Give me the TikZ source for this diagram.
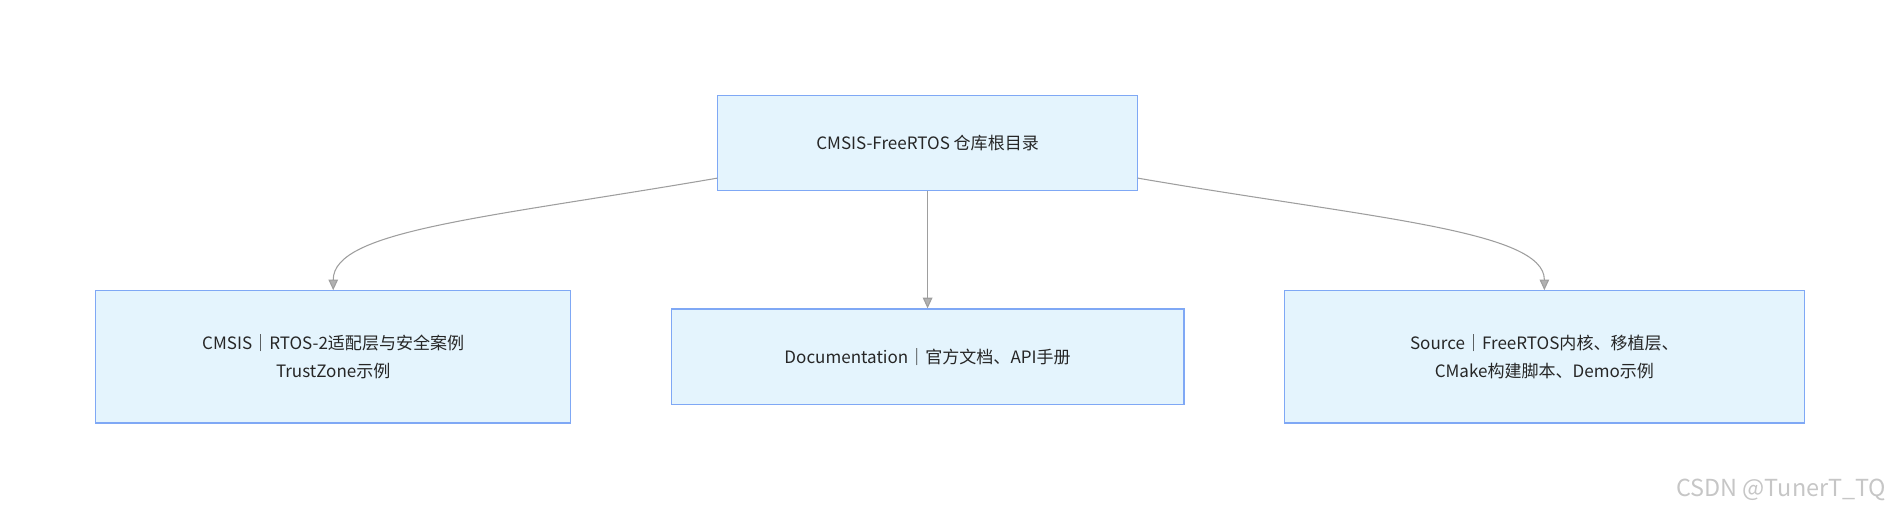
\documentclass[tikz,border=0pt]{standalone}
\usepackage{fontspec}
\setmainfont{Noto Sans CJK SC}
\usepackage{tikz}
\usetikzlibrary{arrows.meta, positioning}
\definecolor{boxfill}{HTML}{E4F4FD}
\definecolor{boxline}{HTML}{7FA8F5}
\definecolor{edgegray}{gray}{0.62}

\begin{document}
\begin{tikzpicture}[x=0.02cm, y=-0.02cm,
	dir/.style={draw=boxline, fill=boxfill, line width=0.6pt, align=center,
		font=\fontsize{8pt}{13pt}\selectfont, text=black!85, inner sep=0pt},
	link/.style={draw=edgegray, line width=0.5pt, -{Triangle[length=5pt, width=4.5pt, fill=edgegray!80]}}]

\useasboundingbox (0,0) rectangle (1568,430);

% directories
\node[dir, minimum width=347*0.02cm, minimum height=78*0.02cm] (root) at (765.5,118) {CMSIS-FreeRTOS 仓库根目录};
\node[dir, minimum width=392*0.02cm, minimum height=109*0.02cm] (cmsis) at (275,294.5) {CMSIS｜RTOS-2适配层与安全案例\\TrustZone示例};
\node[dir, minimum width=423*0.02cm, minimum height=79*0.02cm] (doc) at (765.5,294.5) {Documentation｜官方文档、API手册};
\node[dir, minimum width=429*0.02cm, minimum height=109*0.02cm] (src) at (1274.5,294.5) {Source｜FreeRTOS内核、移植层、\\CMake构建脚本、Demo示例};

\coordinate (rootl) at (592,147);
\coordinate (rootr) at (939,147);

% links
\draw[link] (rootl) .. controls (400,180) and (275,190) .. (cmsis.north);
\draw[link] (root.south) -- (doc.north);
\draw[link] (rootr) .. controls (1130,180) and (1274.5,190) .. (src.north);

\node[text=gray!45, font=\fontsize{11pt}{13pt}\selectfont] (mark) at (1470,404) {CSDN @TunerT\_TQ};

\end{tikzpicture}
\end{document}
